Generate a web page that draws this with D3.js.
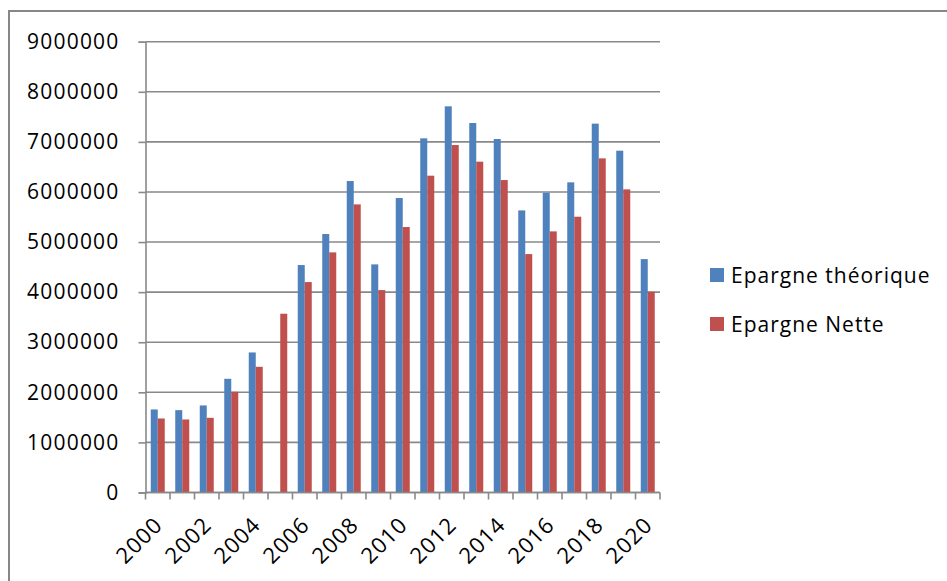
<!DOCTYPE html>
<html>
<head>
<meta charset="utf-8">
<script src="https://cdn.jsdelivr.net/npm/d3@7"></script>
<style>
  body { margin: 0; background: #fff; }
  text { font-family: "Open Sans", Lato, sans-serif; fill: #000; }
</style>
</head>
<body>
<div id="app"></div>
<script>
// Years on the x axis
const years = d3.range(2000, 2021);

// Series names and values
const seriesNames = ["Epargne théorique", "Epargne Nette"];
const theorique = [1658000, 1644000, 1738000, 2270000, 2796000, 0, 4541000, 5160000, 6218000, 4554000, 5879000,
  7071000, 7710000, 7377000, 7057000, 5632000, 5985000, 6192000, 7364000, 6824000, 4660000];
const nette = [1478000, 1458000, 1491000, 2011000, 2510000, 3569000, 4201000, 4794000, 5752000, 4041000, 5300000,
  6325000, 6937000, 6605000, 6238000, 4760000, 5213000, 5506000, 6671000, 6052000, 4008000];

const yTicks = d3.range(0, 9000001, 1000000);
const colors = ["#4F81BD", "#C0504D"];

const width = 947, height = 581;
const margin = { left: 145.5, right: 660, top: 41.7, bottom: 492.5 };

const svg = d3.select("#app")
  .append("svg")
  .attr("width", width)
  .attr("height", height);

// Chart area border (cut off at right and bottom like the picture)
svg.append("rect")
  .attr("x", 9)
  .attr("y", 11)
  .attr("width", width)
  .attr("height", height)
  .attr("fill", "none")
  .attr("stroke", "#878787")
  .attr("stroke-width", 2);

const x = d3.scaleBand().domain(years).range([margin.left, margin.right]);
const xs = d3.scaleBand().domain(seriesNames).range([0, x.bandwidth()]).paddingOuter(0.75);
const y = d3.scaleLinear().domain([0, 9000000]).range([margin.bottom, margin.top]);
const color = d3.scaleOrdinal(seriesNames, colors);

// Gridlines
svg.append("g")
  .selectAll("line")
  .data(yTicks)
  .join("line")
  .attr("x1", margin.left)
  .attr("x2", margin.right)
  .attr("y1", (d) => y(d))
  .attr("y2", (d) => y(d))
  .attr("stroke", "#898989")
  .attr("stroke-width", 1.6);

// Bars
const rows = years.map((yr, i) => ({ year: yr, values: [theorique[i], nette[i]] }));
svg.append("g")
  .selectAll("g")
  .data(rows)
  .join("g")
  .attr("transform", (d) => `translate(${x(d.year)},0)`)
  .selectAll("rect")
  .data((d) => d.values.map((v, k) => ({ key: seriesNames[k], value: v })))
  .join("rect")
  .attr("x", (d) => xs(d.key))
  .attr("width", xs.bandwidth())
  .attr("y", (d) => y(d.value))
  .attr("height", (d) => y(0) - y(d.value))
  .attr("fill", (d) => color(d.key));

// Y axis
svg.append("g")
  .attr("transform", `translate(${margin.left},0)`)
  .call(d3.axisLeft(y).tickValues(yTicks).tickFormat(d3.format("d")).tickSize(7).tickPadding(19))
  .call((g) => g.selectAll("line, path").attr("stroke", "#898989").attr("stroke-width", 1.6))
  .call((g) => g.selectAll("text")
    .attr("font-size", 21)
    .attr("letter-spacing", 1.2)
    .attr("font-family", null));

// X axis: line + ticks on category edges
const xAxis = svg.append("g");
xAxis.append("line")
  .attr("x1", margin.left)
  .attr("x2", margin.right)
  .attr("y1", y(0))
  .attr("y2", y(0))
  .attr("stroke", "#898989")
  .attr("stroke-width", 1.6);
xAxis.selectAll(".edge")
  .data(years.concat([years[years.length - 1] + 1]))
  .join("line")
  .attr("class", "edge")
  .attr("x1", (d, i) => margin.left + i * x.step())
  .attr("x2", (d, i) => margin.left + i * x.step())
  .attr("y1", y(0))
  .attr("y2", y(0) + 7)
  .attr("stroke", "#898989")
  .attr("stroke-width", 1.6);

// X labels, every other year, rotated
xAxis.selectAll(".lbl")
  .data(years.filter((d) => d % 2 === 0))
  .join("text")
  .attr("class", "lbl")
  .attr("text-anchor", "end")
  .attr("font-size", 22)
  .attr("letter-spacing", 1)
  .attr("transform", (d) => `translate(${x(d) + x.bandwidth() / 2 + 6},${y(0) + 34}) rotate(-45)`)
  .text((d) => d);

// Legend
const legend = svg.append("g")
  .attr("transform", "translate(710,268)");
const item = legend.selectAll("g")
  .data(seriesNames)
  .join("g")
  .attr("transform", (d, i) => `translate(0,${i * 49})`);
item.append("rect")
  .attr("width", 14)
  .attr("height", 14)
  .attr("fill", (d) => color(d));
item.append("text")
  .attr("x", 21)
  .attr("y", 14.5)
  .attr("font-size", 21)
  .attr("letter-spacing", 1)
  .text((d) => d);
</script>
</body>
</html>
